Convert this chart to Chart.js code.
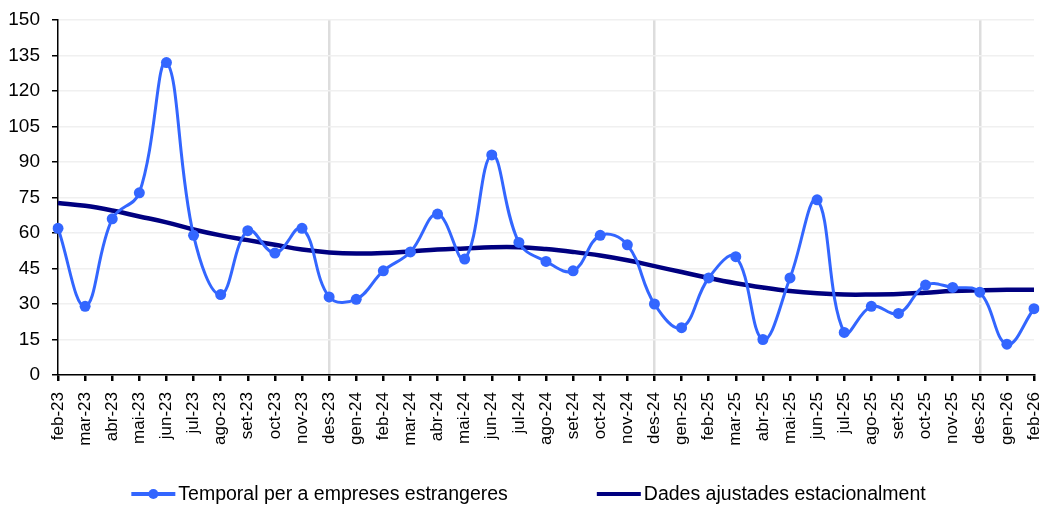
<!DOCTYPE html>
<html>
<head>
<meta charset="utf-8">
<script src="https://cdn.jsdelivr.net/npm/chart.js@4/dist/chart.umd.min.js"></script>
<style>
html,body{margin:0;padding:0;background:#fff;}
#wrap{width:1045px;height:505px;position:relative;}
</style>
</head>
<body>
<div id="wrap"><canvas id="c"></canvas></div>
<script>
const categories = ["feb-23","mar-23","abr-23","mai-23","jun-23","jul-23","ago-23","set-23","oct-23","nov-23","des-23",
  "gen-24","feb-24","mar-24","abr-24","mai-24","jun-24","jul-24","ago-24","set-24","oct-24","nov-24","des-24",
  "gen-25","feb-25","mar-25","abr-25","mai-25","jun-25","jul-25","ago-25","set-25","oct-25","nov-25","des-25",
  "gen-26","feb-26"];
const temporalValues = [62,29,66,77,132,59,34,61,51.5,62,33,
  32,44,52,68,49,93,56,48,44,59,55,30,
  20,41,50,15,41,74,18,29,26,38,37,35,
  13,28];
const ajustadesValues = [72.7,71.5,69.5,67,64.5,61.5,59,57,55,53,51.8,
  51.3,51.5,52.2,53,53.5,54,54,53.2,52,50.5,48.5,46,
  43.5,41,38.8,37,35.5,34.5,34,34,34.2,34.8,35.5,35.8,
  36,36];
const yTicks = [0,15,30,45,60,75,90,105,120,135,150];
const seriesNames = ["Temporal per a empreses estrangeres","Dades ajustades estacionalment"];
const highlightLabels = ["des-23","des-24","des-25"];

const FONT = 'Liberation Sans, Arial, sans-serif';

// Legend drawn at the bottom, Excel style (line sample + optional marker)
const bottomLegend = {
  id: 'bottomLegend',
  afterDraw(chart) {
    const ctx = chart.ctx;
    ctx.save();
    ctx.font = '19.5px ' + FONT;
    const lineW = 44, textGap = 3, itemGap = 89;
    const items = chart.data.datasets.map(ds => ({
      text: ds.label, color: ds.borderColor, marker: ds.pointRadius > 0
    }));
    const widths = items.map(it => lineW + textGap + ctx.measureText(it.text).width);
    const total = widths.reduce((a, b) => a + b, 0) + itemGap * (items.length - 1);
    let x = (chart.width - total) / 2 + 6;
    const y = 494;
    items.forEach((it, i) => {
      ctx.strokeStyle = it.color;
      ctx.lineWidth = 4;
      ctx.beginPath();
      ctx.moveTo(x, y);
      ctx.lineTo(x + lineW, y);
      ctx.stroke();
      if (it.marker) {
        ctx.fillStyle = it.color;
        ctx.beginPath();
        ctx.arc(x + lineW / 2, y, 5, 0, Math.PI * 2);
        ctx.fill();
      }
      ctx.fillStyle = '#000';
      ctx.textBaseline = 'middle';
      ctx.textAlign = 'left';
      ctx.fillText(it.text, x + lineW + textGap, y + 1);
      x += widths[i] + itemGap;
    });
    ctx.restore();
  }
};

new Chart(document.getElementById('c'), {
  type: 'line',
  data: {
    labels: categories,
    datasets: [
      {
        label: seriesNames[0],
        data: temporalValues,
        borderColor: '#3366FF',
        backgroundColor: '#3366FF',
        borderWidth: 3,
        pointRadius: 5.5,
        pointHoverRadius: 5.5,
        pointBackgroundColor: '#3366FF',
        pointBorderWidth: 0,
        tension: 0.4
      },
      {
        label: seriesNames[1],
        data: ajustadesValues,
        borderColor: '#000080',
        backgroundColor: '#000080',
        borderWidth: 4.5,
        pointRadius: 0,
        tension: 0.4
      }
    ]
  },
  options: {
    responsive: true,
    maintainAspectRatio: false,
    animation: false,
    layout: { padding: { left: 0, right: 0, top: 20, bottom: 55 } },
    scales: {
      x: {
        offset: false,
        afterFit: (axis) => { axis.height = 75; axis.paddingRight = 11; axis.paddingLeft = 0; },
        grid: {
          drawOnChartArea: true,
          color: (ctx) => (ctx.tick && highlightLabels.includes(categories[ctx.index])) ? '#dddddd' : 'rgba(0,0,0,0)',
          lineWidth: 2.5,
          tickColor: '#000',
          tickLength: 6
        },
        border: { color: '#000', width: 1.5 },
        ticks: {
          autoSkip: false,
          maxRotation: 90,
          minRotation: 90,
          color: '#000',
          font: { family: FONT, size: 17 },
          padding: 11
        }
      },
      y: {
        min: 0,
        max: 150,
        afterFit: (axis) => { axis.width = 58; axis.paddingTop = 0; axis.paddingBottom = 0; },
        afterBuildTicks: (axis) => { axis.ticks = yTicks.map(v => ({ value: v })); },
        grid: {
          color: '#f0f0f0',
          lineWidth: 1.5,
          tickColor: '#000',
          tickLength: 6
        },
        border: { color: '#000', width: 1.5 },
        ticks: {
          color: '#000',
          font: { family: FONT, size: 19 },
          padding: 12
        }
      }
    },
    plugins: {
      legend: { display: false },
      tooltip: { enabled: false }
    }
  },
  plugins: [bottomLegend]
});
</script>
</body>
</html>
